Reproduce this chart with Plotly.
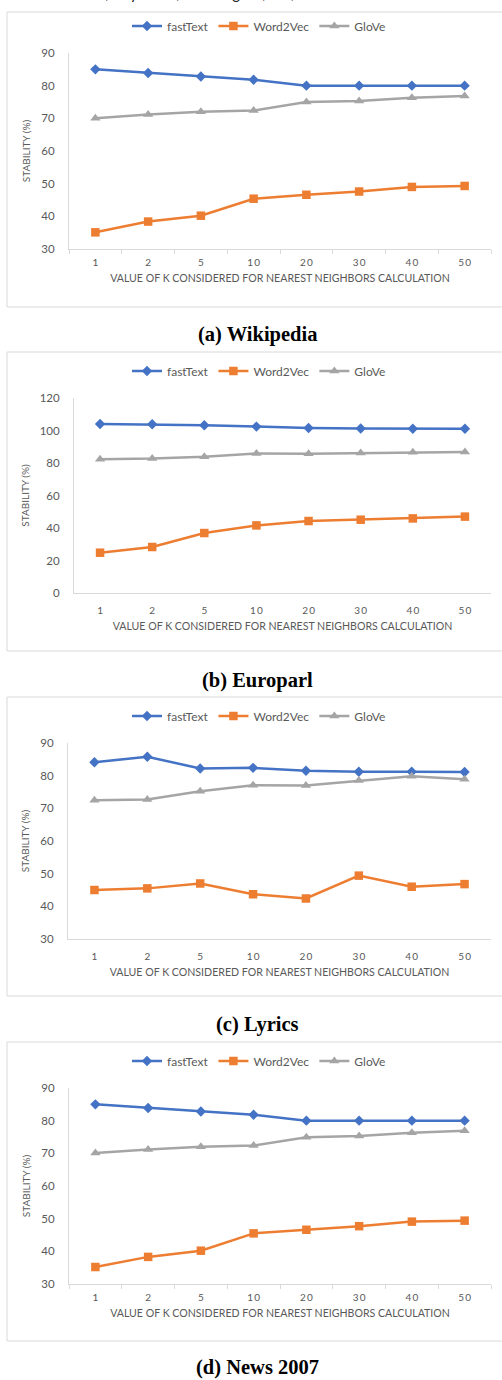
import plotly.graph_objects as go

W, H = 502, 1380

# ---------------- data ----------------
k_labels = ["1", "2", "5", "10", "20", "30", "40", "50"]
k_ticktext = ["1", "2", "5", "1\u20090", "2\u20090", "3\u20090", "4\u20090", "5\u20090"]
series_names = ["fastText", "Word2Vec", "GloVe"]

wiki_fasttext = [85.0, 83.9, 82.8, 81.8, 80.0, 80.0, 80.0, 80.0]
wiki_word2vec = [35.1, 38.4, 40.2, 45.4, 46.6, 47.6, 49.0, 49.3]
wiki_glove = [70.0, 71.2, 72.0, 72.4, 75.0, 75.3, 76.3, 76.8]

euro_fasttext = [104.0, 103.8, 103.2, 102.4, 101.5, 101.2, 101.1, 101.1]
euro_word2vec = [24.8, 28.3, 36.9, 41.6, 44.3, 45.1, 45.9, 47.0]
euro_glove = [82.3, 82.7, 83.9, 85.9, 85.7, 86.2, 86.6, 86.8]

lyrics_fasttext = [84.1, 85.8, 82.2, 82.4, 81.5, 81.2, 81.2, 81.1]
lyrics_word2vec = [45.0, 45.5, 47.0, 43.7, 42.4, 49.4, 46.0, 46.8]
lyrics_glove = [72.5, 72.7, 75.2, 77.1, 77.0, 78.5, 79.8, 78.9]

news_fasttext = [85.0, 83.9, 82.8, 81.8, 80.0, 80.0, 80.0, 80.0]
news_word2vec = [35.2, 38.3, 40.2, 45.5, 46.6, 47.7, 49.1, 49.4]
news_glove = [70.1, 71.2, 72.0, 72.4, 74.9, 75.3, 76.3, 76.9]

captions = ["(a) Wikipedia", "(b) Europarl", "(c) Lyrics", "(d) News 2007"]
y_ranges = [[30, 90], [0, 120], [30, 90], [30, 90]]
y_dticks = [10, 20, 10, 10]
x_title = "VALUE OF K CONSIDERED FOR NEAREST NEIGHBORS CALCULATION"
y_title = "STABILITY (%)"
header_text = "Conference\u201917, July 2017, Washington, DC, USA"

panels_data = [
    [wiki_fasttext, wiki_word2vec, wiki_glove],
    [euro_fasttext, euro_word2vec, euro_glove],
    [lyrics_fasttext, lyrics_word2vec, lyrics_glove],
    [news_fasttext, news_word2vec, news_glove],
]

# ---------------- styling / layout ----------------
colors = ["#4472C4", "#ED7D31", "#A5A5A5"]
symbols = ["diamond", "square", "triangle-up"]
msizes = [8, 8.5, 9]
TXT = "#595959"
LINE = "#D9D9D9"
FONT = "Lato, Carlito, Calibri, sans-serif"

# pixel geometry per panel: plot left, plot right, plot top, plot bottom,
# box top, box bottom, legend y, caption y, show ticks
geom = [
    dict(l=69, r=491, t=53, b=249, bt=12, bb=307, ly=26, cy=334, ticks=True),
    dict(l=74, r=491, t=398, b=593, bt=352, bb=651, ly=371, cy=680, ticks=False),
    dict(l=68, r=491, t=743, b=939, bt=697, bb=996, ly=716, cy=1024, ticks=False),
    dict(l=69, r=491, t=1088, b=1284, bt=1042, bb=1341, ly=1061, cy=1367, ticks=True),
]


def fx(p):
    return p / W


def fy(p):
    return 1 - p / H


fig = go.Figure()
layout = dict(
    width=W, height=H,
    margin=dict(l=0, r=0, t=0, b=0),
    paper_bgcolor="white", plot_bgcolor="white",
    font=dict(family=FONT, color=TXT),
    showlegend=True,
)
shapes = []
annotations = []

for i, (g, data) in enumerate(zip(geom, panels_data)):
    n = i + 1
    xa = "x" if n == 1 else f"x{n}"
    ya = "y" if n == 1 else f"y{n}"
    lg = "legend" if n == 1 else f"legend{n}"
    for s in range(3):
        fig.add_trace(go.Scatter(
            x=k_labels, y=data[s], name=series_names[s],
            mode="lines+markers",
            line=dict(color=colors[s], width=2.5),
            marker=dict(symbol=symbols[s], size=msizes[s], color=colors[s]),
            xaxis=xa, yaxis=ya, legend=lg,
        ))
    xkey = "xaxis" if n == 1 else f"xaxis{n}"
    ykey = "yaxis" if n == 1 else f"yaxis{n}"
    layout[xkey] = dict(
        domain=[fx(g["l"]), fx(g["r"])], anchor=ya, type="category",
        range=[-0.5, 7.5],
        tickvals=k_labels, ticktext=k_ticktext,
        showline=True, linecolor=LINE, linewidth=1,
        showgrid=False, zeroline=False,
        ticks="outside" if g["ticks"] else "", tickson="boundaries",
        ticklen=4, tickcolor=LINE,
        ticklabelstandoff=4 if g["ticks"] else 8,
        tickfont=dict(size=10, color=TXT, family=FONT),
        title=dict(text=x_title, font=dict(size=10.6, color=TXT, family=FONT), standoff=7),
        automargin=False, fixedrange=True,
    )
    layout[ykey] = dict(
        domain=[fy(g["b"]), fy(g["t"])], anchor=xa,
        range=y_ranges[i], dtick=y_dticks[i], tick0=0,
        showline=True, linecolor=LINE, linewidth=1,
        showgrid=False, zeroline=False, ticks="",
        ticklabelstandoff=11,
        tickfont=dict(size=11.5, color=TXT, family=FONT),
        title=dict(text=y_title, font=dict(size=10, color=TXT, family=FONT), standoff=8),
        automargin=False, fixedrange=True,
    )
    layout[lg] = dict(
        orientation="h", x=fx(259), xanchor="center", y=fy(g["ly"]), yanchor="middle",
        font=dict(size=12, color=TXT, family=FONT),
        bgcolor="rgba(0,0,0,0)", itemwidth=30,
        traceorder="normal",
    )
    shapes.append(dict(
        type="rect", xref="paper", yref="paper",
        x0=fx(7), x1=fx(540), y0=fy(g["bb"]), y1=fy(g["bt"]),
        line=dict(color=LINE, width=1), fillcolor="rgba(0,0,0,0)", layer="below",
    ))
    annotations.append(dict(
        text=f"<b>{captions[i]}</b>", xref="paper", yref="paper",
        x=fx(257), y=fy(g["cy"]), xanchor="center", yanchor="middle",
        showarrow=False,
        font=dict(family="Liberation Serif, Times New Roman, serif", size=20.5, color="#000000"),
    ))

annotations.append(dict(
    text=header_text, xref="paper", yref="paper",
    x=fx(330), y=fy(-7), xanchor="right", yanchor="middle",
    showarrow=False, font=dict(family="Lato, sans-serif", size=15, color="#222222"),
))

layout["shapes"] = shapes
layout["annotations"] = annotations
fig.update_layout(**layout)
fig.write_html(
    "out.html",
    config={"displayModeBar": False, "staticPlot": True},
    post_script="document.body.style.margin='0';document.body.style.padding='0';",
)
